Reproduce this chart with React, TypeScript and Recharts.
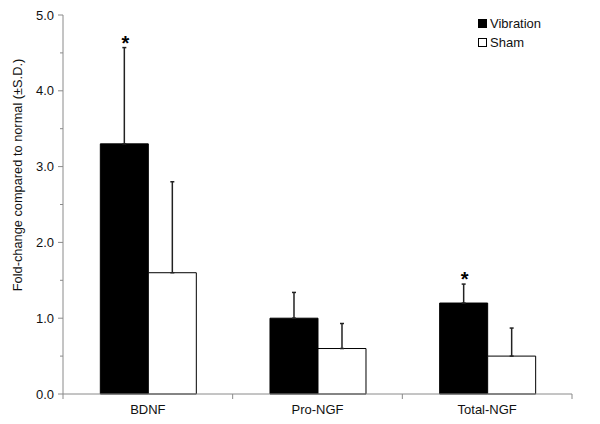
import React from 'react';
import { BarChart, Bar, XAxis, YAxis, ErrorBar, LabelList } from 'recharts';

// values
const categories = ['BDNF', 'Pro-NGF', 'Total-NGF'];
const vibration = [3.3, 1.0, 1.2];
const vibrationSD = [1.27, 0.34, 0.25];
const sham = [1.6, 0.6, 0.5];
const shamSD = [1.2, 0.33, 0.37];
const significance = ['*', '', '*'];
const yTicks = [0, 0.5, 1, 1.5, 2, 2.5, 3, 3.5, 4, 4.5, 5];
const seriesNames = ['Vibration', 'Sham'];

const data = categories.map((name, i) => ({
  name,
  vibration: vibration[i],
  vibrationErr: [0, vibrationSD[i]],
  sham: sham[i],
  shamErr: [0, shamSD[i]],
}));

const FONT = '"Liberation Sans", Arial, sans-serif';
const AXIS = '#8a8a8a';

const YTick = (props: any) => {
  const { x, y, payload } = props;
  const v = payload.value;
  const major = Math.abs(v - Math.round(v)) < 1e-6;
  return (
    <g>
      <line x1={x - (major ? 5 : 3)} x2={x} y1={y} y2={y} stroke={AXIS} />
      {major && (
        <text x={x - 9} y={y} dy="0.35em" textAnchor="end" fontSize={13} fill="#111" fontFamily={FONT}>
          {v.toFixed(1)}
        </text>
      )}
    </g>
  );
};

const XTick = (props: any) => {
  const { x, y, payload, index, visibleTicksCount } = props;
  const half = payload.offset || 0;
  const last = index === (visibleTicksCount ?? categories.length) - 1;
  return (
    <g>
      <line x1={x - half} x2={x - half} y1={y} y2={y + 5} stroke={AXIS} />
      {last && <line x1={x + half} x2={x + half} y1={y} y2={y + 5} stroke={AXIS} />}
      <text x={x} y={y + 20} textAnchor="middle" fontSize={13} fill="#111" fontFamily={FONT}>
        {payload.value}
      </text>
    </g>
  );
};

const renderStar = (props: any) => {
  const vb = props.viewBox || props;
  const { x, y, width, height } = vb;
  const index = props.index;
  const mark = significance[index];
  if (!mark) return null;
  const top = Math.min(y, y + height);
  const pxPerUnit = Math.abs(height) / vibration[index];
  const errTop = top - vibrationSD[index] * pxPerUnit;
  return (
    <text x={x + width / 2 + 1} y={errTop + 2} textAnchor="middle" fontSize={20} fontWeight="bold" fill="#000" fontFamily={FONT}>
      {mark}
    </text>
  );
};

const renderYLabel = () => (
  <text
    x={17}
    y={175}
    transform="rotate(-90 17 175)"
    textAnchor="middle"
    dominantBaseline="central"
    fontSize={12.8}
    fill="#111"
    fontFamily={FONT}
  >
    Fold-change compared to normal (±S.D.)
  </text>
);

export default function App() {
  return (
    <div style={{ position: 'absolute', left: 0, top: 0, width: 600, height: 424, background: '#fff', fontFamily: FONT }}>
      <BarChart
        width={600}
        height={424}
        data={data}
        margin={{ top: 15, right: 28, left: 0, bottom: 0 }}
        barCategoryGap="22%"
        barGap={0}
      >
        <XAxis
          dataKey="name"
          height={30}
          stroke={AXIS}
          tickLine={false}
          tickSize={0}
          tickMargin={0}
          tick={<XTick />}
          interval={0}
        />
        <YAxis
          width={63}
          domain={[0, 5]}
          ticks={yTicks}
          interval={0}
          stroke={AXIS}
          tickLine={false}
          tickSize={0}
          tickMargin={0}
          tick={<YTick />}
          label={{ content: renderYLabel }}
        />
        <Bar dataKey="vibration" name={seriesNames[0]} fill="#000" stroke="#000" isAnimationActive={false}>
          <ErrorBar dataKey="vibrationErr" direction="y" width={2} stroke="#222" strokeWidth={1.5} />
          <LabelList dataKey="vibration" content={renderStar} />
        </Bar>
        <Bar dataKey="sham" name={seriesNames[1]} fill="#fff" stroke="#000" isAnimationActive={false}>
          <ErrorBar dataKey="shamErr" direction="y" width={2} stroke="#222" strokeWidth={1.5} />
        </Bar>
      </BarChart>
      <div style={{ position: 'absolute', left: 478, top: 14, fontSize: 13, color: '#111', lineHeight: '19px' }}>
        {seriesNames.map((n, i) => (
          <div key={n} style={{ display: 'flex', alignItems: 'center' }}>
            <span
              style={{
                display: 'inline-block',
                width: 7,
                height: 7,
                background: i === 0 ? '#000' : '#fff',
                border: '1px solid #000',
                marginRight: 3,
              }}
            />
            {n}
          </div>
        ))}
      </div>
    </div>
  );
}
